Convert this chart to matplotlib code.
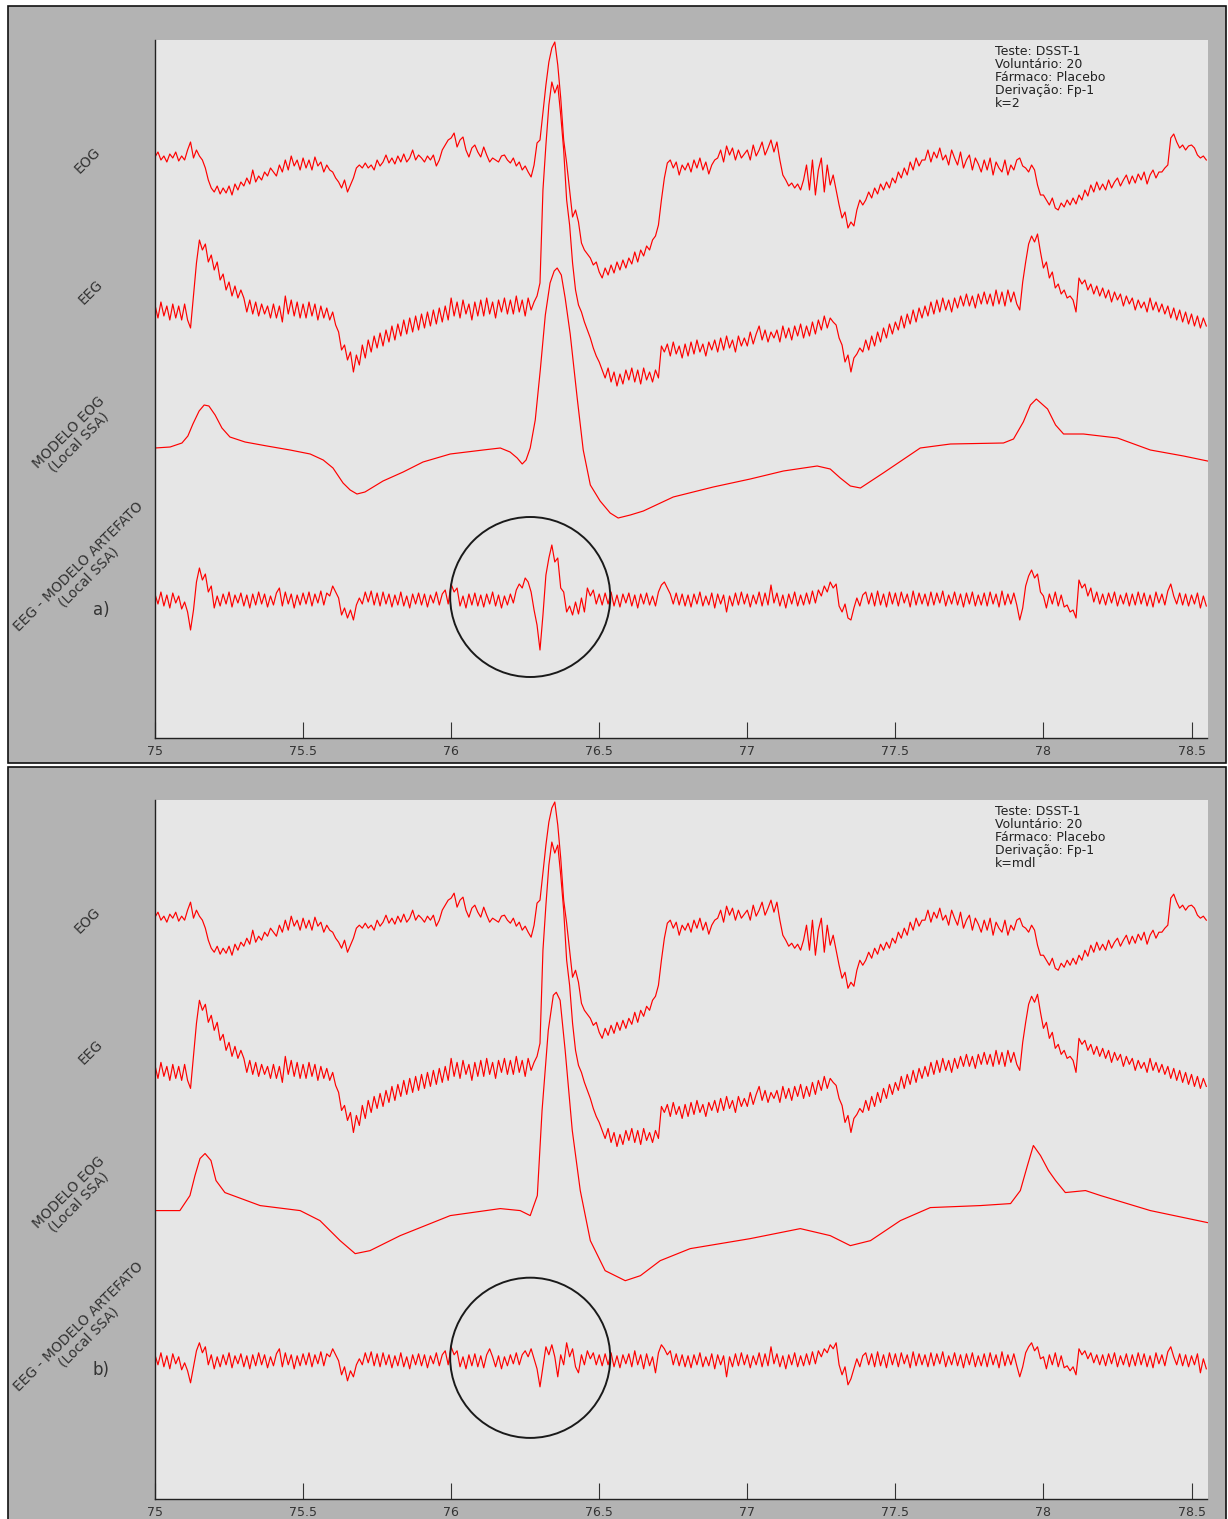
import matplotlib
matplotlib.use("Agg")
import matplotlib.pyplot as plt
import numpy as np
from matplotlib.patches import Ellipse, Rectangle

# sampled traces: one value every 10 ms starting at 75.00 s (amplitude, arbitrary units)
SAMPLE_START = 75.0
SAMPLE_STEP = 0.01

EOG = [
    3, 8, 0, 4, -2, 6, 2, 8, -1, 4,
    0, 10, 18, 2, 10, 4, 0, -8, -20, -28,
    -32, -26, -34, -28, -33, -26, -35, -24, -30, -22,
    -26, -18, -24, -10, -22, -16, -20, -12, -16, -8,
    -12, -16, -5, -12, 0, -10, 4, -6, 0, -10,
    2, -8, 0, -10, 3, -6, -2, -12, -5, -10,
    -12, -18, -22, -28, -20, -32, -25, -18, -8, -5,
    -8, -3, -8, -5, -10, 0, -6, -2, 5, -3,
    2, -4, 4, -2, 6, -2, 2, 10, 0, 5,
    2, -2, 4, 0, 5, -6, 0, 10, 15, 20,
    22, 27, 13, 20, 23, 10, 3, 12, 15, 8,
    3, 13, 5, -2, 2, 0, -2, 4, 5, 0,
    -3, 2, -6, -2, -10, -6, -12, -17, -5, 17,
    20, 47, 75, 98, 112, 118, 95, 62, 20, -3,
    -30, -57, -50, -62, -83, -90, -94, -98, -105, -102,
    -112, -118, -108, -115, -105, -113, -102, -110, -100, -108,
    -98, -104, -92, -102, -90, -96, -86, -90, -80, -76,
    -65, -40, -18, -3, 0, -8, -2, -15, -5, -10,
    -3, -12, 0, -8, 2, -10, -2, -14, -5, 0,
    2, 10, -2, 14, 5, 12, 0, 10, 2, 6,
    10, 0, 15, 4, 10, 18, 5, 12, 20, 8,
    18, 0, -15, -20, -26, -23, -28, -24, -30, -20,
    -5, -30, 0, -35, -10, 2, -32, -5, -25, -15,
    -30, -45, -58, -52, -68, -62, -66, -50, -40, -45,
    -40, -32, -38, -28, -34, -24, -30, -22, -28, -18,
    -23, -12, -18, -8, -15, -2, -10, 2, -6, 0,
    0, 10, -2, 8, 2, 12, 0, 5, -5, 10,
    2, -5, 8, -8, 0, 5, -10, 2, -4, -12,
    0, -10, 2, -15, -2, -8, -12, 0, -15, -5,
    -10, 0, 2, -6, -8, -12, -5, -10, -25, -35,
    -35, -40, -45, -38, -48, -50, -43, -47, -40, -45,
    -38, -44, -35, -40, -30, -36, -25, -32, -22, -30,
    -24, -30, -20, -28, -22, -18, -26, -20, -15, -24,
    -16, -23, -14, -20, -12, -24, -15, -10, -18, -12,
    -12, -8, -5, 22, 26, 18, 12, 15, 10, 14,
    15, 12, 5, 2, 4, 0,
]

EEG = [
    5, -8, 8, -6, 4, -10, 6, -8, 4, -10,
    6, -10, -18, 15, 47, 70, 60, 66, 48, 55,
    40, 48, 30, 36, 20, 28, 14, 24, 12, 20,
    12, -2, 10, -4, 8, -6, 6, -4, 4, -8,
    6, -8, 4, -12, 14, -4, 10, -6, 8, -8,
    6, -8, 8, -6, 6, -10, 4, -8, 2, -10,
    -2, -15, -22, -40, -35, -50, -42, -62, -45, -55,
    -35, -48, -30, -42, -26, -38, -23, -36, -20, -32,
    -16, -30, -14, -26, -10, -24, -8, -22, -6, -20,
    -4, -18, -2, -16, 0, -14, 2, -12, 4, -10,
    12, -6, 8, -8, 10, -4, 6, -10, 8, -6,
    10, -6, 12, -4, 8, -8, 10, -2, 12, -4,
    10, -4, 14, -2, 10, -6, 12, 0, 8, 14,
    27, 120, 165, 205, 228, 217, 225, 195, 160, 110,
    85, 47, 20, 5, -2, -12, -20, -28, -38, -46,
    -52, -60, -68, -58, -72, -62, -76, -64, -74, -60,
    -70, -58, -72, -60, -74, -58, -70, -62, -72, -60,
    -68, -36, -42, -34, -46, -32, -44, -36, -48, -34,
    -46, -32, -44, -30, -42, -34, -46, -32, -40, -30,
    -42, -28, -40, -26, -38, -30, -42, -26, -36, -28,
    -36, -22, -34, -24, -16, -30, -20, -32, -22, -28,
    -20, -32, -16, -28, -18, -30, -16, -26, -14, -28,
    -16, -26, -12, -24, -10, -20, -6, -18, -8, -12,
    -15, -28, -35, -52, -45, -62, -48, -44, -38, -42,
    -30, -40, -26, -36, -22, -32, -18, -28, -14, -24,
    -12, -20, -6, -18, -4, -14, 0, -12, 2, -8,
    4, -6, 8, -4, 10, -2, 12, 0, 10, -2,
    12, 2, 14, 4, 16, 4, 14, 2, 16, 6,
    18, 6, 16, 4, 20, 6, 18, 4, 20, 8,
    18, 6, 0, 28, 48, 66, 74, 68, 76, 58,
    42, 48, 32, 38, 22, 26, 16, 20, 12, 14,
    10, -2, 32, 26, 30, 20, 26, 16, 24, 14,
    22, 12, 20, 8, 18, 10, 16, 4, 14, 6,
    12, 0, 10, 2, 8, -2, 12, 0, 8, -2,
    6, -4, 4, -8, 2, -10, 0, -12, -2, -14,
    -4, -16, -6, -18, -8, -16,
]

RESIDUAL_K2 = [
    6, -4, 8, -6, 5, -8, 7, -3, 4, -9,
    -2, -12, -30, -10, 18, 32, 20, 26, 8, 14,
    -8, 4, -6, 6, -4, 8, -7, 5, -3, 7,
    -6, 5, -8, 6, -5, 8, -4, 6, -7, 4,
    -5, 7, 12, -6, 8, -4, 6, -8, 5, -5,
    7, -4, 8, -6, 6, -3, 9, -5, 7, 4,
    14, 8, 2, -15, -8, -18, -10, -20, -5, 2,
    -4, 8, -2, 9, -5, 7, -6, 8, -4, 6,
    -7, 5, -5, 8, -6, 4, -8, 6, -4, 7,
    -5, 6, -7, 5, -3, 8, -5, 6, 10, -4,
    16, 8, 12, -6, 4, -8, 6, -5, 7, -6,
    5, -7, 6, -4, 8, -6, 5, -8, 4, -5,
    6, -3, 10, 16, 12, 22, 18, 8, -10, -25,
    -50, -15, 25, 42, 55, 38, 42, 12, 8, -12,
    -6, -15, -2, -14, 2, -12, 12, 4, 10, -4,
    6, -5, 7, -4, 8, -6, 5, -7, 6, -3,
    7, -6, 5, -8, 6, -4, 7, -5, 4, -6,
    8, 15, 18, 12, 6, -4, 7, -5, 6, -6,
    5, -7, 6, -4, 8, -6, 4, -5, 7, -8,
    6, -4, 5, -12, 4, -6, 7, -5, 8, -4,
    6, -7, 5, -4, 8, -6, 7, -5, 15, -3,
    7, -6, 5, -8, 6, -4, 8, -6, 5, -5,
    7, -4, 9, -3, 10, 4, 14, 8, 18, 12,
    16, -6, -12, -4, -18, -20, -8, 2, -6, 5,
    8, -4, 7, -6, 9, -5, 6, -7, 8, -4,
    7, -6, 8, -3, 6, -7, 9, -5, 7, -4,
    6, -6, 8, -5, 7, -3, 9, -6, 5, -4,
    8, -5, 6, -7, 7, -4, 8, -6, 5, -5,
    7, -6, 8, -4, 6, -7, 9, -5, 6, -4,
    7, -5, -20, -8, 14, 24, 30, 22, 26, 8,
    4, -8, 6, -4, 8, -6, 5, -7, -5, -12,
    -10, -18, 20, 12, 16, 4, 12, -2, 8, -4,
    6, -5, 7, -3, 8, -6, 5, -4, 7, -6,
    6, -5, 8, -4, 7, -6, 5, -7, 8, -3,
    6, -5, 9, 16, 4, -4, 7, -5, 6, -6,
    5, -4, 7, -8, 4, -6,
]

RESIDUAL_MDL = [
    6, -4, 8, -6, 5, -8, 7, -3, 4, -9,
    -2, -10, -22, -6, 10, 18, 8, 14, -4, 6,
    -8, 4, -6, 6, -4, 8, -7, 5, -3, 7,
    -6, 5, -8, 6, -5, 8, -4, 6, -7, 4,
    -5, 7, 12, -6, 8, -4, 6, -8, 5, -5,
    7, -4, 8, -6, 6, -3, 9, -5, 7, 4,
    12, 6, 0, -14, -6, -20, -10, -16, -4, 2,
    -4, 8, -2, 9, -5, 7, -6, 8, -4, 6,
    -7, 5, -5, 8, -6, 4, -8, 6, -4, 7,
    -5, 6, -7, 5, -3, 8, -5, 6, 10, -4,
    14, 6, 10, -6, 4, -8, 6, -5, 7, -6,
    5, -7, 6, 12, 4, -6, 5, -8, 4, -5,
    6, -3, 8, -4, 6, 10, 4, 12, 2, -8,
    -26, -6, 14, 6, 16, 4, -16, 6, -4, 18,
    4, 12, -6, -12, 6, -4, 10, 2, 8, -4,
    6, -5, 7, -4, 8, -6, 5, -7, 6, -3,
    7, -6, 10, -4, 6, -8, 7, -5, 4, -12,
    8, 16, 12, 6, 10, -4, 7, -5, 6, -6,
    5, -7, 6, -4, 8, -6, 4, -5, 7, -8,
    6, -4, 5, -16, 4, -6, 7, -5, 8, -4,
    6, -7, 5, -4, 8, -6, 7, -5, 14, -3,
    7, -6, 5, -8, 6, -4, 8, -6, 5, -5,
    7, -4, 9, -3, 10, 4, 12, 8, 16, 12,
    18, -4, -14, -6, -24, -18, -8, 2, -6, 5,
    8, -4, 7, -6, 9, -5, 6, -7, 8, -4,
    7, -6, 8, -3, 6, -7, 9, -5, 7, -4,
    6, -6, 8, -5, 7, -3, 9, -6, 5, -4,
    8, -5, 6, -7, 7, -4, 8, -6, 5, -5,
    7, -6, 8, -4, 6, -7, 9, -5, 6, -4,
    7, -5, -16, -6, 8, 14, 18, 10, 14, 2,
    4, -8, 6, -4, 8, -6, 5, -7, -5, -10,
    -6, -14, 12, 6, 10, 2, 8, -2, 6, -4,
    6, -5, 7, -3, 8, -6, 5, -4, 7, -6,
    6, -5, 8, -4, 7, -6, 5, -7, 8, -3,
    6, -5, 9, 14, 4, -4, 7, -5, 6, -6,
    5, -4, 7, -12, 2, -8,
]

# smooth artefact models, read at their turning points
MODEL_K2_TIME = [
    75.000, 75.051, 75.091, 75.111, 75.128, 75.149, 75.166, 75.182, 75.203, 75.226,
    75.253, 75.304, 75.378, 75.456, 75.524, 75.568, 75.601, 75.635, 75.659, 75.682,
    75.709, 75.770, 75.838, 75.905, 75.997, 76.108, 76.166, 76.199, 76.223, 76.240,
    76.253, 76.267, 76.284, 76.301, 76.318, 76.334, 76.348, 76.358, 76.372, 76.385,
    76.402, 76.426, 76.446, 76.470, 76.503, 76.537, 76.564, 76.605, 76.649, 76.750,
    76.885, 77.010, 77.122, 77.236, 77.280, 77.314, 77.348, 77.382, 77.459, 77.584,
    77.686, 77.865, 77.899, 77.932, 77.956, 77.976, 78.014, 78.041, 78.068, 78.135,
    78.250, 78.361, 78.473, 78.554,
]
MODEL_K2 = [
    2, 3, 7, 14, 26, 39, 45, 44, 35, 22,
    13, 8, 4, 0, -4, -10, -18, -33, -40, -44,
    -42, -31, -22, -12, -4, 0, 2, -2, -8, -14,
    -10, 2, 30, 80, 135, 167, 179, 182, 175, 152,
    116, 51, 0, -35, -51, -63, -68, -65, -61, -47,
    -37, -29, -21, -16, -19, -28, -36, -38, -23, 2,
    6, 7, 11, 28, 45, 51, 41, 25, 16, 16,
    12, 0, -6, -11,
]

MODEL_MDL_TIME = [
    75.000, 75.084, 75.118, 75.135, 75.152, 75.169, 75.189, 75.206, 75.236, 75.355,
    75.490, 75.557, 75.625, 75.676, 75.726, 75.828, 75.997, 76.166, 76.233, 76.267,
    76.291, 76.307, 76.328, 76.345, 76.355, 76.368, 76.385, 76.409, 76.436, 76.470,
    76.520, 76.588, 76.639, 76.706, 76.807, 77.010, 77.179, 77.280, 77.348, 77.416,
    77.517, 77.618, 77.787, 77.889, 77.922, 77.946, 77.966, 77.990, 78.017, 78.041,
    78.074, 78.142, 78.193, 78.361, 78.554,
]
MODEL_MDL = [
    0, 0, 15, 35, 52, 57, 50, 30, 18, 5,
    0, -10, -30, -43, -40, -25, -5, 2, 0, -5,
    15, 100, 180, 215, 218, 210, 160, 80, 20, -30,
    -60, -70, -65, -50, -38, -28, -18, -25, -35, -30,
    -10, 3, 5, 7, 20, 45, 65, 55, 40, 30,
    18, 20, 15, 0, -12,
]

TRACE_NAMES = ["EOG", "EEG", "MODELO EOG\n(Local SSA)", "EEG - MODELO ARTEFATO\n(Local SSA)"]
INFO_LINES = ["Teste: DSST-1", "Voluntário: 20", "Fármaco: Placebo", "Derivação: Fp-1"]
K_LABELS = ["k=2", "k=mdl"]
PANEL_TAGS = ["a)", "b)"]
X_TICKS = [75, 75.5, 76, 76.5, 77, 77.5, 78, 78.5]
X_TICK_LABELS = ["75", "75.5", "76", "76.5", "77", "77.5", "78", "78.5"]
CIRCLE_TIME = 76.267

FIG_W, FIG_H = 1228, 1519
OFFSETS = [578, 428, 288, 138]
Y_SPAN = 698
LABEL_POS = [(88, 160), (91, 292), (74, 437), (84, 572)]
TEXT_COLOR = "#333333"
FRAME_COLOR = "#b3b3b3"
AX_COLOR = "#e6e6e6"


def fx(px):
    return px / FIG_W


def fy(py):
    return 1 - py / FIG_H


def draw_panel(fig, top_px, bottom_px, model_t, model_v, residual, k_label, tag):
    ax = fig.add_axes([fx(155), fy(bottom_px), fx(1207.5) - fx(155), (bottom_px - top_px) / FIG_H])
    ax.set_zorder(2)
    ax.set_facecolor(AX_COLOR)
    t = np.round(SAMPLE_START + SAMPLE_STEP * np.arange(len(EOG)), 2)
    style = dict(color="#ff0000", linewidth=0.85)
    ax.plot(t, np.array(EOG) + OFFSETS[0], **style)
    ax.plot(t, np.array(EEG) + OFFSETS[1], **style)
    ax.plot(model_t, np.array(model_v) + OFFSETS[2], **style)
    ax.plot(t, np.array(residual) + OFFSETS[3], **style)
    ax.add_patch(Ellipse((CIRCLE_TIME, OFFSETS[3] + 3), 160 / 296, 160,
                         fill=False, edgecolor="#1a1a1a", linewidth=1.4, zorder=3))
    ax.set_xlim(75, 78.554)
    ax.set_ylim(0, Y_SPAN)
    ax.set_yticks([])
    ax.set_xticks(X_TICKS)
    ax.set_xticklabels(X_TICK_LABELS, fontsize=9, color=TEXT_COLOR)
    ax.tick_params(axis="x", direction="in", length=11.5, width=0.8, color="#333333", pad=5)
    ax.spines[["top", "right"]].set_visible(False)
    for side in ["left", "bottom"]:
        ax.spines[side].set_color("#222222")
        ax.spines[side].set_linewidth(1.0)
    ax.text(0.798, 0.993, "\n".join(INFO_LINES + [k_label]), transform=ax.transAxes,
            ha="left", va="top", fontsize=9, color="#222222", linespacing=1.0)

    shift = top_px - 40
    for name, (px, py) in zip(TRACE_NAMES, LABEL_POS):
        fig.text(fx(px), fy(py + shift), name, rotation=45, ha="center", va="center",
                 multialignment="center", fontsize=10, color=TEXT_COLOR, linespacing=1.0)
    fig.text(fx(101), fy(610 + shift), tag, ha="center", va="center", fontsize=12, color=TEXT_COLOR)
    return ax


fig = plt.figure(figsize=(FIG_W / 100, FIG_H / 100), dpi=100)
fig.patch.set_facecolor("white")
fig.patches.append(Rectangle((fx(8), fy(763)), fx(1226) - fx(8), (763 - 6) / FIG_H,
                             transform=fig.transFigure, facecolor=FRAME_COLOR,
                             edgecolor="#111111", linewidth=1.2, zorder=-1))
fig.patches.append(Rectangle((fx(8), fy(1540)), fx(1226) - fx(8), (1540 - 767) / FIG_H,
                             transform=fig.transFigure, facecolor=FRAME_COLOR,
                             edgecolor="#111111", linewidth=1.2, zorder=-1))

draw_panel(fig, 40, 738, MODEL_K2_TIME, MODEL_K2, RESIDUAL_K2, K_LABELS[0], PANEL_TAGS[0])
draw_panel(fig, 800, 1499, MODEL_MDL_TIME, MODEL_MDL, RESIDUAL_MDL, K_LABELS[1], PANEL_TAGS[1])

fig.savefig("out.png", dpi=100, facecolor=fig.get_facecolor())
plt.close(fig)
